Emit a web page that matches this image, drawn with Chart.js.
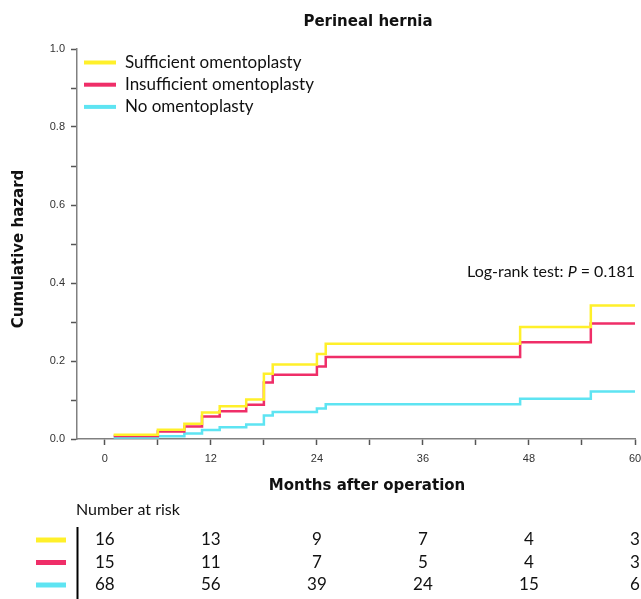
<!DOCTYPE html>
<html>
<head>
<meta charset="utf-8">
<script src="https://cdn.jsdelivr.net/npm/chart.js@4.4.1/dist/chart.umd.min.js"></script>
<style>
  html, body { margin: 0; padding: 0; background: #fff; }
</style>
</head>
<body>
<canvas id="km" width="641" height="599"></canvas>
<script>
// event times (months) shared by the three curves
const months = [1, 6, 9, 11, 13, 16, 18, 19, 24, 25, 47, 55, 60];
const sufficient = [0.011, 0.024, 0.039, 0.068, 0.084, 0.101, 0.167, 0.191, 0.218, 0.244, 0.287, 0.342, 0.342];
const insufficient = [0.008, 0.019, 0.032, 0.058, 0.071, 0.088, 0.145, 0.165, 0.186, 0.210, 0.248, 0.296, 0.296];
const noOmento = [0.004, 0.007, 0.014, 0.023, 0.030, 0.037, 0.060, 0.069, 0.078, 0.089, 0.103, 0.122, 0.122];

const groupNames = ['Sufficient omentoplasty', 'Insufficient omentoplasty', 'No omentoplasty'];
const groupColors = ['#fff02a', '#ef2e68', '#5ee4f2'];

const xTicks = [0, 6, 12, 18, 24, 30, 36, 42, 48, 54, 60];
const yTicks = [0, 0.1, 0.2, 0.3, 0.4, 0.5, 0.6, 0.7, 0.8, 0.9, 1.0];

// number at risk table
const riskTimes = [0, 12, 24, 36, 48, 60];
const riskSufficient = [16, 13, 9, 7, 4, 3];
const riskInsufficient = [15, 11, 7, 5, 4, 3];
const riskNone = [68, 56, 39, 24, 15, 6];

const toPts = vals => months.map((m, i) => ({ x: m, y: vals[i] }));
const series = [sufficient, insufficient, noOmento];
const riskRows = [riskSufficient, riskInsufficient, riskNone];

const tickFont = { family: '"Liberation Sans", Arial, sans-serif', size: 11 };

const extras = {
  id: 'extras',
  afterDraw(chart) {
    const ctx = chart.ctx;
    const sx = chart.scales.x;
    const sets = chart.data.datasets;
    ctx.save();
    ctx.fillStyle = '#111';
    ctx.textBaseline = 'middle';

    // titles
    ctx.font = 'bold 15px "DejaVu Sans", sans-serif';
    ctx.textAlign = 'center';
    ctx.fillText('Perineal hernia', 368, 22);
    ctx.fillText('Months after operation', 367, 486);
    ctx.save();
    ctx.translate(19, 249);
    ctx.rotate(-Math.PI / 2);
    ctx.fillText('Cumulative hazard', 0, 0);
    ctx.restore();

    // legend
    ctx.font = '17px Lato, sans-serif';
    ctx.textAlign = 'left';
    sets.forEach((d, i) => {
      const y = 62.5 + i * 22.2;
      ctx.strokeStyle = d.borderColor;
      ctx.lineWidth = 4;
      ctx.beginPath();
      ctx.moveTo(84, y);
      ctx.lineTo(116, y);
      ctx.stroke();
      ctx.fillText(d.label, 125, y);
    });

    // log-rank text, right aligned to plot edge
    const a = 'Log-rank test: ', p = 'P', b = ' = 0.181';
    ctx.font = '16px Lato, sans-serif';
    const wa = ctx.measureText(a).width, wb = ctx.measureText(b).width;
    ctx.font = 'italic 16px Lato, sans-serif';
    const wp = ctx.measureText(p).width;
    let x0 = chart.chartArea.right - (wa + wp + wb);
    ctx.font = '16px Lato, sans-serif';
    ctx.fillText(a, x0, 272);
    ctx.font = 'italic 16px Lato, sans-serif';
    ctx.fillText(p, x0 + wa, 272);
    ctx.font = '16px Lato, sans-serif';
    ctx.fillText(b, x0 + wa + wp, 272);

    // number at risk
    ctx.fillText('Number at risk', 76, 510);
    ctx.strokeStyle = '#000';
    ctx.lineWidth = 2;
    ctx.beginPath();
    ctx.moveTo(77.5, 527);
    ctx.lineTo(77.5, 599);
    ctx.stroke();
    ctx.textAlign = 'center';
    ctx.font = '17px Lato, sans-serif';
    riskRows.forEach((row, r) => {
      const y = 540 + r * 22.5;
      ctx.strokeStyle = sets[r].borderColor;
      ctx.lineWidth = 5;
      ctx.beginPath();
      ctx.moveTo(36, y);
      ctx.lineTo(66, y);
      ctx.stroke();
      row.forEach((n, i) => {
        ctx.fillText(String(n), sx.getPixelForValue(riskTimes[i]), y);
      });
    });
    ctx.restore();
  }
};

new Chart(document.getElementById('km'), {
  type: 'line',
  data: {
    datasets: series.map((vals, i) => ({
      label: groupNames[i],
      data: toPts(vals),
      borderColor: groupColors[i],
      backgroundColor: groupColors[i],
      borderWidth: 2.5,
      pointRadius: 0,
      stepped: 'before',
      fill: false
    }))
  },
  options: {
    responsive: false,
    animation: false,
    layout: { padding: { top: 49, right: 6, bottom: 0, left: 0 } },
    plugins: { legend: { display: false }, title: { display: false }, tooltip: { enabled: false } },
    scales: {
      x: {
        type: 'linear',
        min: -3.15,
        max: 60,
        afterBuildTicks: s => { s.ticks = xTicks.map(v => ({ value: v })); },
        afterFit: s => { s.height = 160; s.paddingLeft = 0; s.paddingRight = 0; },
        border: { color: '#808080', width: 1.5 },
        grid: { drawOnChartArea: false, drawTicks: true, tickLength: 6, tickColor: '#555', tickWidth: 1.5 },
        ticks: {
          autoSkip: false, maxRotation: 0, padding: 7, color: '#333', font: tickFont,
          callback: v => (v % 12 === 0 ? String(v) : '')
        }
      },
      y: {
        min: 0,
        max: 1,
        afterBuildTicks: s => { s.ticks = yTicks.map(v => ({ value: v })); },
        afterFit: s => { s.width = 77; },
        border: { color: '#808080', width: 1.5 },
        grid: { drawOnChartArea: false, drawTicks: true, tickLength: 6, tickColor: '#555', tickWidth: 1.5 },
        ticks: {
          autoSkip: false, padding: 6, color: '#333', font: tickFont,
          callback: (v, i) => (i % 2 === 0 ? v.toFixed(1) : '')
        }
      }
    }
  },
  plugins: [extras]
});
</script>
</body>
</html>
